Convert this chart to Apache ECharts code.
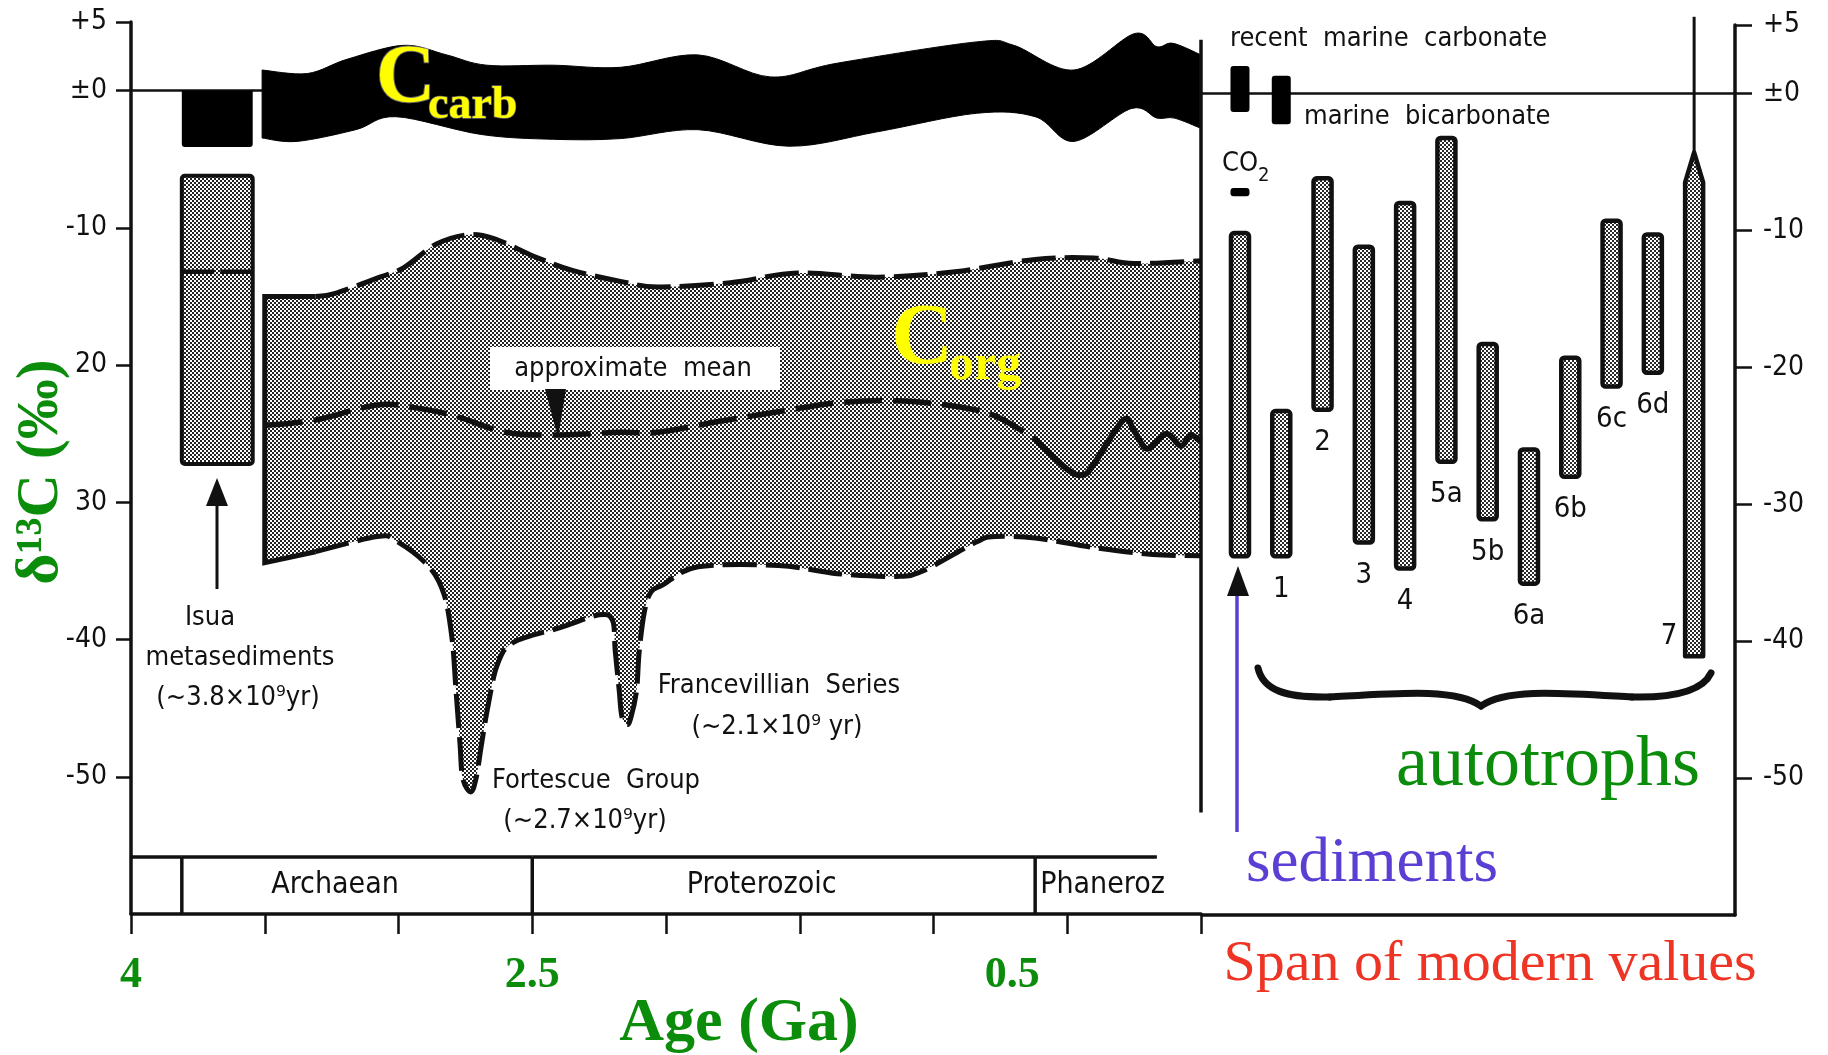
<!DOCTYPE html>
<html>
<head>
<meta charset="utf-8">
<title>Carbon isotope record</title>
<script src="https://cdn.jsdelivr.net/npm/echarts@6/dist/echarts.min.js"></script>
<style>
  html, body { margin: 0; padding: 0; background: #fff; }
  #chart { width: 1828px; height: 1055px; }
</style>
</head>
<body>
<div id="chart"></div>
<script>
// ---------- axis ticks ----------
const ageTicks = [4, 2.5, 0.5];
const ageTickLabels = ['4', '2.5', '0.5'];
const deltaTicks = [5, 0, -10, -20, -30, -40, -50];
const leftDeltaLabels = ['+5', '±0', '-10', '20', '30', '-40', '-50'];
const rightDeltaLabels = ['+5', '±0', '-10', '-20', '-30', '-40', '-50'];

// ---------- geological eras (Ga) ----------
const eraNames = ['', 'Archaean', 'Proterozoic', 'Phaneroz'];
const eraStart = [4.0, 3.81, 2.5, 0.62];
const eraEnd = [3.81, 2.5, 0.62, 0.165];

// ---------- carbonate carbon envelope [age Ga, δ13C ‰] ----------
const ccarbTop = [[3.51, 1.5], [3.34, 1.25], [3.19, 2.3], [2.98, 3.3], [2.82, 2.6], [2.67, 1.85], [2.42, 1.85],
  [2.17, 1.7], [1.88, 2.6], [1.61, 1.0], [1.36, 2.0], [0.84, 3.55], [0.70, 3.3], [0.475, 1.5], [0.25, 4.15],
  [0.165, 3.2], [0.105, 3.45], [0.0, 2.6]];
const ccarbBottom = [[3.51, -3.45], [3.38, -3.7], [3.16, -2.85], [3.01, -1.9], [2.69, -3.2], [2.42, -3.55],
  [2.17, -3.5], [1.88, -2.85], [1.54, -4.05], [1.21, -3.0], [0.84, -1.65], [0.62, -1.9], [0.475, -3.7],
  [0.26, -1.3], [0.165, -2.0], [0.10, -2.0], [0.0, -2.75]];

// ---------- organic carbon envelope and its approximate mean ----------
const corgTop = [[3.50, -15.0], [3.31, -15.0], [3.24, -14.8], [3.07, -13.6], [2.98, -12.9], [2.86, -11.2],
  [2.74, -10.5], [2.64, -10.8], [2.49, -12.1], [2.35, -13.1], [2.17, -13.9], [2.03, -14.3], [1.76, -14.0],
  [1.51, -13.3], [1.21, -13.6], [0.92, -13.2], [0.62, -12.3], [0.40, -12.2], [0.25, -12.6], [0.0, -12.4]];
const corgBottom = [[3.50, -34.4], [3.31, -33.6], [3.08, -32.5], [3.01, -32.8], [2.89, -34.6], [2.83, -36.7],
  [2.80, -39.9], [2.785, -43.7], [2.77, -47.6], [2.76, -50.1], [2.73, -51.1], [2.71, -50.1], [2.69, -47.7],
  [2.665, -44.8], [2.63, -41.8], [2.57, -40.2], [2.39, -39.1], [2.25, -38.2], [2.20, -38.6], [2.19, -40.8],
  [2.175, -43.7], [2.165, -45.6], [2.145, -46.2], [2.13, -45.6], [2.11, -43.7], [2.10, -40.8], [2.08, -37.9],
  [2.055, -36.5], [2.01, -36.0], [1.88, -34.7], [1.58, -34.6], [1.36, -35.2], [1.14, -35.4], [1.04, -35.0],
  [0.84, -32.9], [0.77, -32.5], [0.62, -32.6], [0.40, -33.3], [0.18, -33.8], [0.0, -33.9]];
const corgMean = [[3.50, -24.4], [3.31, -24.0], [3.08, -22.9], [2.94, -23.1], [2.79, -23.7], [2.60, -24.9],
  [2.42, -25.1], [2.17, -24.9], [2.03, -24.9], [1.80, -24.1], [1.58, -23.4], [1.36, -22.75], [1.14, -22.6],
  [0.92, -23.0], [0.77, -23.7], [0.62, -25.4], [0.50, -27.6], [0.44, -28.0], [0.40, -27.2], [0.29, -24.0],
  [0.25, -24.8], [0.20, -26.1], [0.13, -25.0], [0.075, -25.9], [0.04, -25.1], [0.0, -25.6]];
const meanSolidFrom = 0.62; // mean drawn solid from this age onward

// ---------- Isua metasediments (~3.8 Ga) ----------
const isuaAge = [3.81, 3.545];
const isuaCarb = [0, -4.1];
const isuaOrg = [-6.2, -27.2];
const isuaOrgMean = -13.2;

// ---------- modern values ----------
const modernNames = ['recent marine carbonate', 'marine bicarbonate', 'CO2'];
const modernSlot = [0, 1, 0];
const modernHigh = [2.0, 1.3, -6.9];
const modernLow = [-1.35, -2.25, -7.5];

const sampleNames = ['sediments', '1', '2', '3', '4', '5a', '5b', '6a', '6b', '6c', '6d', '7'];
const sampleHigh = [-10.2, -23.2, -6.2, -11.2, -8.0, -3.25, -18.3, -26.0, -19.3, -9.3, -10.3, -4.3];
const sampleLow = [-33.8, -33.8, -23.1, -32.8, -34.7, -26.9, -31.1, -35.8, -28.0, -21.4, -20.4, -41.1];
const needleTop = 5.6; // thin stem above range 7

// ---------- styling ----------
const DIN = '"DejaVu Sans Condensed", "Liberation Sans Narrow", "DejaVu Sans", sans-serif';
const SERIF = '"Liberation Serif", "Times New Roman", serif';
const INK = '#111';
const GREEN = '#0b8c0b';
const BLUE = '#5b3fd4';
const RED = '#ee3424';

function dotTile(color) {
  const c = document.createElement('canvas');
  c.width = 4; c.height = 4;
  const g = c.getContext('2d');
  g.fillStyle = '#fff';
  g.fillRect(0, 0, 4, 4);
  g.fillStyle = color;
  g.fillRect(0, 0, 2, 2);
  g.fillRect(2, 2, 2, 2);
  return c;
}
const fieldPattern = { image: dotTile('#222'), repeat: 'repeat' };
const barPattern = { image: dotTile('#2a2a2a'), repeat: 'repeat' };

// Catmull-Rom spline through pixel points, as SVG path data
function spline(pts, cmd) {
  let d = cmd + pts[0][0].toFixed(1) + ' ' + pts[0][1].toFixed(1);
  for (let i = 0; i < pts.length - 1; i++) {
    const p0 = pts[i - 1] || pts[i], p1 = pts[i], p2 = pts[i + 1], p3 = pts[i + 2] || p2;
    const c1 = [p1[0] + (p2[0] - p0[0]) / 6, p1[1] + (p2[1] - p0[1]) / 6];
    const c2 = [p2[0] - (p3[0] - p1[0]) / 6, p2[1] - (p3[1] - p1[1]) / 6];
    d += ' C' + c1[0].toFixed(1) + ' ' + c1[1].toFixed(1) + ' ' + c2[0].toFixed(1) + ' ' + c2[1].toFixed(1) +
      ' ' + p2[0].toFixed(1) + ' ' + p2[1].toFixed(1);
  }
  return d;
}
const toPx = (api, pts) => pts.map(p => api.coord(p));

const chart = echarts.init(document.getElementById('chart'), null, { renderer: 'canvas' });

const dashed = (w, dash) => ({ fill: 'none', stroke: INK, lineWidth: w, lineDash: dash, lineCap: 'butt' });
const txt = (x, y, text, extra) => ({
  type: 'text', x, y, z: 100,
  style: Object.assign({ text, fontFamily: DIN, fontSize: 27, fill: INK, align: 'center', verticalAlign: 'middle' }, extra || {})
});
const brace = (x1, y1, c1x, c1y, c2x, c2y, x2, y2, w) => ({
  type: 'bezierCurve', z: 100,
  shape: { x1, y1, cpx1: c1x, cpy1: c1y, cpx2: c2x, cpy2: c2y, x2, y2 },
  style: { fill: 'none', stroke: INK, lineWidth: w, lineCap: 'round' }
});

const option = {
  animation: false,
  backgroundColor: '#fff',
  grid: [
    { left: 131, top: 22, width: 1070, height: 892 },
    { left: 1202, top: 25, width: 533, height: 890 }
  ],
  xAxis: [
    {
      type: 'value', gridIndex: 0, min: 0, max: 4, interval: 0.5, inverse: true,
      axisLine: { show: true, onZero: false, lineStyle: { color: INK, width: 3.5 } },
      axisTick: { show: true, inside: false, length: 20, lineStyle: { color: INK, width: 2.5 } },
      axisLabel: {
        customValues: ageTicks,
        formatter: v => {
          const i = ageTicks.indexOf(v);
          if (i < 0) return '';
          return i === 2 ? '{lag|' + ageTickLabels[i] + '}' : ageTickLabels[i];
        },
        margin: 40, color: GREEN, fontFamily: SERIF, fontWeight: 'bold', fontSize: 44,
        rich: { lag: { padding: [0, 110, 0, 0], color: GREEN, fontFamily: SERIF, fontWeight: 'bold', fontSize: 44 } }
      },
      splitLine: { show: false }
    },
    {
      type: 'value', gridIndex: 1, min: -0.92, max: 11.99,
      axisLine: { show: true, onZero: false, lineStyle: { color: INK, width: 3.5 } },
      axisTick: { show: false }, axisLabel: { show: false }, splitLine: { show: false }
    }
  ],
  yAxis: [
    {
      type: 'value', gridIndex: 0, min: -60, max: 5,
      axisLine: { show: true, onZero: false, lineStyle: { color: INK, width: 3.5 } },
      axisTick: { show: true, customValues: deltaTicks, length: 15, lineStyle: { color: INK, width: 2.5 } },
      axisLabel: {
        customValues: deltaTicks, margin: 24, color: INK, fontFamily: DIN, fontSize: 28,
        formatter: v => leftDeltaLabels[deltaTicks.indexOf(v)] || ''
      },
      splitLine: { show: false }
    },
    {
      type: 'value', gridIndex: 1, min: -60, max: 5, position: 'right',
      axisLine: { show: true, onZero: false, lineStyle: { color: INK, width: 3.5 } },
      axisTick: { show: true, customValues: deltaTicks, length: 17, lineStyle: { color: INK, width: 2.5 } },
      axisLabel: {
        customValues: deltaTicks, margin: 28, color: INK, fontFamily: DIN, fontSize: 28,
        formatter: v => rightDeltaLabels[deltaTicks.indexOf(v)] || ''
      },
      splitLine: { show: false }
    }
  ],
  series: [
    // zero reference, left panel
    {
      type: 'line', xAxisIndex: 0, yAxisIndex: 0, z: 1, symbol: 'none', silent: true,
      data: [[4, 0], [0, 0]], lineStyle: { color: INK, width: 2.5 }
    },
    // organic carbon field with dashed envelope and approximate mean
    {
      type: 'custom', name: 'Corg', xAxisIndex: 0, yAxisIndex: 0, z: 2, silent: true,
      data: [[2, -20]],
      renderItem: (params, api) => {
        const top = toPx(api, corgTop), bot = toPx(api, corgBottom);
        const fillD = spline(top, 'M') + ' ' + spline(bot.slice().reverse(), 'L') + ' Z';
        const meanDash = toPx(api, corgMean.filter(p => p[0] >= meanSolidFrom));
        const meanSolid = toPx(api, corgMean.filter(p => p[0] <= meanSolidFrom));
        return {
          type: 'group', children: [
            { type: 'path', shape: { pathData: fillD }, style: { fill: fieldPattern, stroke: 'none' } },
            { type: 'path', shape: { pathData: spline(top.slice(1), 'M') }, style: dashed(5, [34, 9]) },
            { type: 'path', shape: { pathData: spline(bot.slice(1), 'M') }, style: dashed(5, [34, 9]) },
            { type: 'polyline', shape: { points: [top[1], top[0], bot[0], bot[1]] },
              style: { fill: 'none', stroke: INK, lineWidth: 5 } },
            { type: 'path', shape: { pathData: spline(meanDash, 'M') }, style: dashed(5.5, [38, 11]) },
            { type: 'path', shape: { pathData: spline(meanSolid, 'M') },
              style: { fill: 'none', stroke: INK, lineWidth: 6, lineJoin: 'round' } }
          ]
        };
      }
    },
    // carbonate carbon band
    {
      type: 'custom', name: 'Ccarb', xAxisIndex: 0, yAxisIndex: 0, z: 3, silent: true,
      data: [[2, 0]],
      renderItem: (params, api) => {
        const top = toPx(api, ccarbTop), bot = toPx(api, ccarbBottom);
        const d = spline(top, 'M') + ' ' + spline(bot.slice().reverse(), 'L') + ' Z';
        return { type: 'path', shape: { pathData: d }, style: { fill: '#000', stroke: '#000', lineWidth: 1 } };
      }
    },
    // Isua metasediments
    {
      type: 'custom', name: 'Isua', xAxisIndex: 0, yAxisIndex: 0, z: 3, silent: true,
      data: [[isuaAge[0], isuaCarb[0]]],
      renderItem: (params, api) => {
        const c1 = api.coord([isuaAge[0], isuaCarb[0]]), c2 = api.coord([isuaAge[1], isuaCarb[1]]);
        const o1 = api.coord([isuaAge[0], isuaOrg[0]]), o2 = api.coord([isuaAge[1], isuaOrg[1]]);
        const my = api.coord([isuaAge[0], isuaOrgMean])[1];
        const mid = (o1[0] + o2[0]) / 2;
        return {
          type: 'group', children: [
            { type: 'rect', shape: { x: c1[0], y: c1[1], width: c2[0] - c1[0], height: c2[1] - c1[1], r: [0, 0, 3, 3] },
              style: { fill: '#000' } },
            { type: 'rect', shape: { x: o1[0], y: o1[1], width: o2[0] - o1[0], height: o2[1] - o1[1], r: 3 },
              style: { fill: fieldPattern, stroke: INK, lineWidth: 4 } },
            { type: 'line', shape: { x1: o1[0], y1: my, x2: mid - 3, y2: my }, style: { stroke: INK, lineWidth: 4.5 } },
            { type: 'line', shape: { x1: mid + 3, y1: my, x2: o2[0], y2: my }, style: { stroke: INK, lineWidth: 4.5 } }
          ]
        };
      }
    },
    // era boxes along the time axis
    {
      type: 'custom', name: 'eras', xAxisIndex: 0, yAxisIndex: 0, z: 3, silent: true,
      data: eraNames.map((n, i) => [eraStart[i], eraEnd[i]]),
      renderItem: (params, api) => {
        const i = params.dataIndex;
        const a = api.coord([api.value(0), -60]), b = api.coord([api.value(1), -60]);
        const topY = a[1] - 57;
        const ch = [{ type: 'line', shape: { x1: a[0], y1: topY, x2: b[0], y2: topY }, style: { stroke: INK, lineWidth: 3.5 } }];
        if (i > 0) ch.push({ type: 'line', shape: { x1: a[0], y1: topY, x2: a[0], y2: a[1] }, style: { stroke: INK, lineWidth: 3.5 } });
        if (eraNames[i]) {
          const last = i === eraNames.length - 1;
          ch.push({
            type: 'text', style: {
              text: eraNames[i], x: last ? a[0] + 5 : (a[0] + b[0]) / 2 - 22, y: (topY + a[1]) / 2,
              align: last ? 'left' : 'center', verticalAlign: 'middle',
              fontFamily: DIN, fontSize: 30, fill: INK
            }
          });
        }
        return { type: 'group', children: ch };
      }
    },
    // boundary between the geological record and the modern values
    {
      type: 'line', xAxisIndex: 0, yAxisIndex: 0, z: 4, symbol: 'none', silent: true,
      data: [[0, 3.7], [0, -52.6]], lineStyle: { color: INK, width: 3.5 }
    },
    // zero reference, right panel
    {
      type: 'line', xAxisIndex: 1, yAxisIndex: 1, z: 1, symbol: 'none', silent: true,
      data: [[-0.92, 0], [11.99, 0]], lineStyle: { color: INK, width: 2.5 }
    },
    // modern carbonate, bicarbonate, CO2
    {
      type: 'custom', name: 'modern', xAxisIndex: 1, yAxisIndex: 1, z: 3, silent: true,
      data: modernNames.map((n, i) => [modernSlot[i], modernHigh[i], modernLow[i]]),
      renderItem: (params, api) => {
        const t = api.coord([api.value(0), api.value(1)]), b = api.coord([api.value(0), api.value(2)]);
        const w = 19;
        return { type: 'rect', shape: { x: t[0] - w / 2, y: t[1], width: w, height: b[1] - t[1], r: 3 }, style: { fill: '#000' } };
      }
    },
    // sediment and autotroph ranges
    {
      type: 'custom', name: 'ranges', xAxisIndex: 1, yAxisIndex: 1, z: 3, silent: true,
      data: sampleNames.map((n, i) => [i, sampleHigh[i], sampleLow[i]]),
      renderItem: (params, api) => {
        const i = params.dataIndex;
        const t = api.coord([api.value(0), api.value(1)]), b = api.coord([api.value(0), api.value(2)]);
        const w = 18, x = t[0];
        const ch = [];
        if (sampleNames[i] === '7') {
          const n = api.coord([api.value(0), needleTop]);
          ch.push({ type: 'line', shape: { x1: x, y1: n[1], x2: x, y2: t[1] }, style: { stroke: INK, lineWidth: 3 } });
          ch.push({
            type: 'polygon',
            shape: { points: [[x, t[1]], [x + w / 2, t[1] + 30], [x + w / 2, b[1]], [x - w / 2, b[1]], [x - w / 2, t[1] + 30]] },
            style: { fill: barPattern, stroke: INK, lineWidth: 4.5, lineJoin: 'round' }
          });
          ch.push({ type: 'text', style: { text: sampleNames[i], x: x - 25, y: b[1] - 20, align: 'center', verticalAlign: 'middle', fontFamily: DIN, fontSize: 29, fill: INK } });
        } else {
          ch.push({
            type: 'rect', shape: { x: x - w / 2, y: t[1], width: w, height: b[1] - t[1], r: 3 },
            style: { fill: barPattern, stroke: INK, lineWidth: 4.5 }
          });
          if (i > 0) ch.push({ type: 'text', style: { text: sampleNames[i], x: x, y: b[1] + 33, align: 'center', verticalAlign: 'middle', fontFamily: DIN, fontSize: 29, fill: INK } });
        }
        return { type: 'group', children: ch };
      }
    }
  ],
  graphic: [
    // vertical axis title
    { type: 'text', x: 41, y: 472, rotation: Math.PI / 2, z: 100,
      style: { text: 'δ¹³C (‰)', fontFamily: SERIF, fontWeight: 'bold', fontSize: 60, fill: GREEN, align: 'center', verticalAlign: 'middle' } },
    // horizontal axis title
    { type: 'text', x: 739, y: 1024, z: 100,
      style: { text: 'Age (Ga)', fontFamily: SERIF, fontWeight: 'bold', fontSize: 62, fill: GREEN, align: 'center', verticalAlign: 'middle' } },
    // band names
    { type: 'text', x: 376, y: 80, z: 100,
      style: { text: 'C', fontFamily: SERIF, fontWeight: 'bold', fontSize: 82, fill: '#ffff00', align: 'left', verticalAlign: 'middle',
        stroke: 'rgba(200,200,200,0.5)', lineWidth: 2, shadowColor: 'rgba(240,240,240,1)', shadowBlur: 12 } },
    { type: 'text', x: 428, y: 106, z: 100,
      style: { text: 'carb', fontFamily: SERIF, fontWeight: 'bold', fontSize: 46, fill: '#ffff00', align: 'left', verticalAlign: 'middle',
        stroke: 'rgba(200,200,200,0.5)', lineWidth: 1.5, shadowColor: 'rgba(240,240,240,1)', shadowBlur: 10 } },
    { type: 'text', x: 891, y: 341, z: 100,
      style: { text: 'C', fontFamily: SERIF, fontWeight: 'bold', fontSize: 86, fill: '#ffff00', align: 'left', verticalAlign: 'middle', shadowColor: 'rgba(80,80,80,0.9)', shadowBlur: 8 } },
    { type: 'text', x: 949, y: 366, z: 100,
      style: { text: 'org', fontFamily: SERIF, fontWeight: 'bold', fontSize: 50, fill: '#ffff00', align: 'left', verticalAlign: 'middle', shadowColor: 'rgba(80,80,80,0.9)', shadowBlur: 6 } },
    // approximate mean tag
    { type: 'rect', z: 90, shape: { x: 490, y: 347, width: 290, height: 43 }, style: { fill: '#fff' } },
    txt(633, 369, 'approximate  mean'),
    { type: 'polygon', z: 100, shape: { points: [[545, 389], [566, 389], [558, 438]] }, style: { fill: INK } },
    // Isua annotation
    { type: 'line', z: 100, shape: { x1: 217, y1: 589, x2: 217, y2: 500 }, style: { stroke: INK, lineWidth: 3 } },
    { type: 'polygon', z: 100, shape: { points: [[217, 478], [206, 506], [228, 506]] }, style: { fill: INK } },
    txt(210, 618, 'Isua'),
    txt(240, 658, 'metasediments'),
    txt(238, 698, '(~3.8×10⁹yr)'),
    // Fortescue and Francevillian annotations
    txt(596, 781, 'Fortescue  Group'),
    txt(585, 821, '(~2.7×10⁹yr)'),
    txt(779, 686, 'Francevillian  Series'),
    txt(777, 727, '(~2.1×10⁹ yr)'),
    // modern value labels
    txt(1230, 39, 'recent  marine  carbonate', { align: 'left' }),
    txt(1304, 117, 'marine  bicarbonate', { align: 'left' }),
    txt(1222, 164, 'CO', { align: 'left' }),
    txt(1258, 176, '2', { align: 'left', fontSize: 20 }),
    // brace grouping the autotrophs
    brace(1258, 668, 1263, 690, 1285, 698, 1330, 697, 7),
    brace(1330, 697, 1400, 693, 1456, 688, 1481, 706, 7),
    brace(1481, 706, 1506, 688, 1562, 693, 1632, 697, 7),
    brace(1632, 697, 1677, 698, 1703, 690, 1711, 673, 7),
    txt(1548, 766, 'autotrophs', { fontFamily: SERIF, fontSize: 72, fill: GREEN }),
    // sediments pointer
    { type: 'line', z: 100, shape: { x1: 1237, y1: 832, x2: 1237, y2: 592 }, style: { stroke: BLUE, lineWidth: 3.5 } },
    { type: 'polygon', z: 100, shape: { points: [[1238, 566], [1227, 596], [1249, 596]] }, style: { fill: INK } },
    txt(1372, 864, 'sediments', { fontFamily: SERIF, fontSize: 63, fill: BLUE }),
    txt(1490, 965, 'Span of modern values', { fontFamily: SERIF, fontSize: 58, fill: RED })
  ]
};

chart.setOption(option);
</script>
</body>
</html>
